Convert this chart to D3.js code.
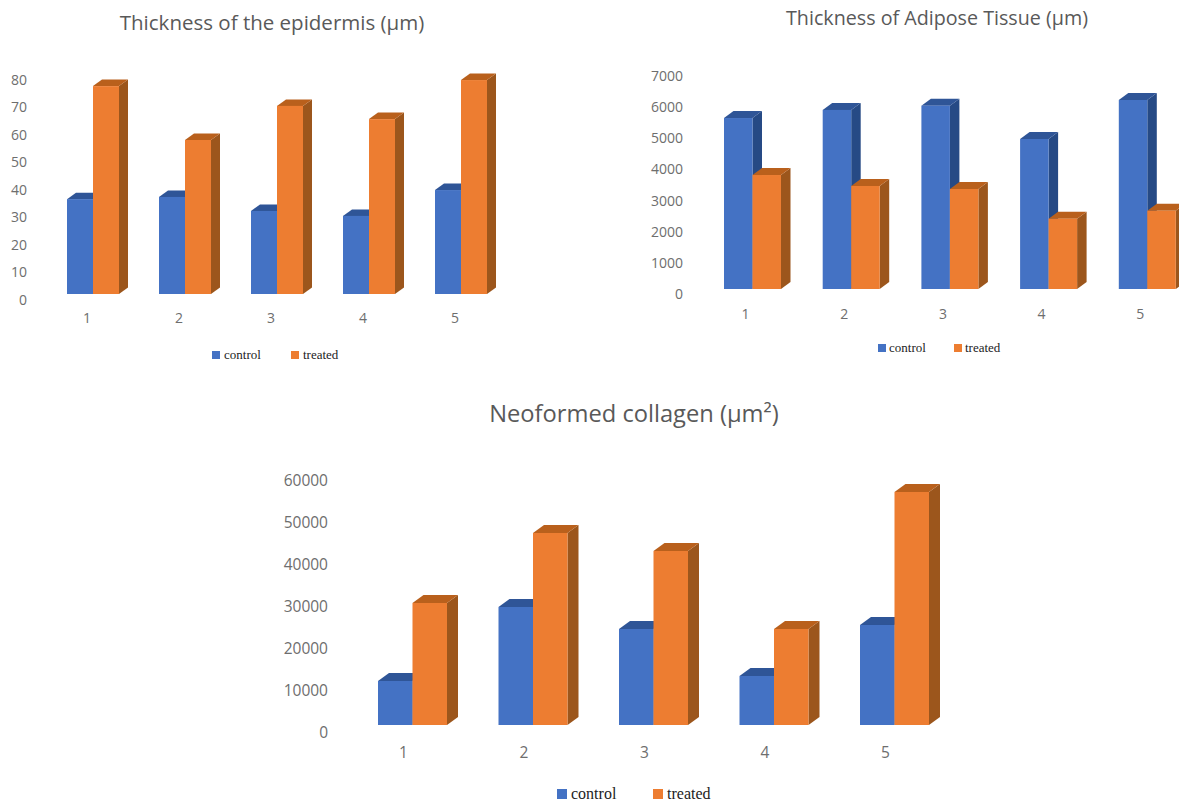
<!DOCTYPE html>
<html>
<head>
<meta charset="utf-8">
<script src="https://cdn.jsdelivr.net/npm/d3@7"></script>
<style>
html, body { margin: 0; padding: 0; background: #fff; overflow: hidden; }
svg { display: block; }
.title { font-family: "Open Sans", sans-serif; fill: #595959; text-anchor: middle; }
.axis text { font-family: "Open Sans", sans-serif; fill: #6e6e6e; }
.legend text { font-family: "Liberation Serif", serif; fill: #222; }
</style>
</head>
<body>
<svg id="page" width="1179" height="803"></svg>
<script>
var categories = ["1", "2", "3", "4", "5"];
var seriesNames = ["control", "treated"];

var epidermisTitle = "Thickness of the epidermis (µm)";
var epidermisControl = [34.5, 35.3, 30.2, 28.4, 37.8];
var epidermisTreated = [75.6, 56, 68.4, 63.6, 77.8];
var epidermisTicks = [0, 10, 20, 30, 40, 50, 60, 70, 80];

var adiposeTitle = "Thickness of Adipose Tissue (µm)";
var adiposeControl = [5490, 5750, 5886, 4817, 6069];
var adiposeTreated = [3660, 3308, 3211, 2258, 2514];
var adiposeTicks = [0, 1000, 2000, 3000, 4000, 5000, 6000, 7000];

var collagenTitle = "Neoformed collagen (µm²)";
var collagenControl = [10476, 28095, 22857, 11667, 23810];
var collagenTreated = [29048, 45714, 41429, 22857, 55476];
var collagenTicks = [0, 10000, 20000, 30000, 40000, 50000, 60000];

var colors = {
	control: { front: "#4472c4", top: "#2f5597", side: "#264a85" },
	treated: { front: "#ed7d31", top: "#b9601c", side: "#9c561c" }
};

function drawChart(o) {
	var svg = d3.select("#page");
	var g = svg.append("g");

	g.append("text")
		.attr("class", "title")
		.attr("x", o.titleX)
		.attr("y", o.titleY)
		.style("font-size", o.titleSize + "px")
		.text(o.title);

	var y = d3.scaleLinear().domain([0, o.ticks[o.ticks.length - 1]]).range([o.base, o.top]);
	var x = d3.scaleBand()
		.domain(categories)
		.range([o.left, o.left + (categories.length - 1) * o.step + o.pairWidth])
		.paddingInner(1 - o.pairWidth / o.step)
		.paddingOuter(0);
	var inner = d3.scaleBand().domain(seriesNames).range([0, x.bandwidth()]);

	var rows = [];
	categories.forEach(function(c, i) {
		rows.push({ cat: c, name: "control", value: o.control[i] });
		rows.push({ cat: c, name: "treated", value: o.treated[i] });
	});

	var bars = g.selectAll("g.bar")
		.data(rows)
		.enter().append("g")
		.attr("class", "bar");

	function left(d) { return x(d.cat) + inner(d.name); }
	function right(d) { return left(d) + inner.bandwidth(); }

	bars.append("polygon")
		.attr("fill", function(d) { return colors[d.name].side; })
		.attr("points", function(d) {
			return [[right(d), y(d.value)], [right(d) + o.depthX, y(d.value) - o.depthY],
				[right(d) + o.depthX, o.base - o.depthY], [right(d), o.base]].join(" ");
		});
	bars.append("polygon")
		.attr("fill", function(d) { return colors[d.name].top; })
		.attr("points", function(d) {
			return [[left(d), y(d.value)], [left(d) + o.depthX, y(d.value) - o.depthY],
				[right(d) + o.depthX, y(d.value) - o.depthY], [right(d), y(d.value)]].join(" ");
		});
	bars.append("rect")
		.attr("fill", function(d) { return colors[d.name].front; })
		.attr("x", left)
		.attr("y", function(d) { return y(d.value); })
		.attr("width", inner.bandwidth())
		.attr("height", function(d) { return o.base - y(d.value); });

	var yAxis = g.append("g")
		.attr("class", "axis")
		.attr("transform", "translate(" + o.tickRight + "," + o.tickShift + ")")
		.call(d3.axisLeft(y).tickValues(o.ticks).tickSize(0).tickPadding(0).tickFormat(d3.format("d")));
	var xAxis = g.append("g")
		.attr("class", "axis")
		.attr("transform", "translate(" + (-o.catShift) + "," + o.catY + ")")
		.call(d3.axisBottom(x).tickSize(0).tickPadding(0));
	[yAxis, xAxis].forEach(function(a) {
		a.select(".domain").remove();
		a.selectAll("text").style("font-size", o.tickSize + "px");
	});

	var legend = g.append("g").attr("class", "legend");
	seriesNames.forEach(function(name, i) {
		legend.append("rect")
			.attr("x", o.legendX[i])
			.attr("y", o.legendY - o.legendBox / 2)
			.attr("width", o.legendBox)
			.attr("height", o.legendBox)
			.attr("fill", colors[name].front);
		legend.append("text")
			.attr("x", o.legendX[i] + o.legendBox + o.legendGap)
			.attr("y", o.legendY)
			.attr("dy", "0.32em")
			.style("font-size", o.legendSize + "px")
			.text(name);
	});
}

drawChart({
	title: epidermisTitle, control: epidermisControl, treated: epidermisTreated, ticks: epidermisTicks,
	titleX: 272, titleY: 30, titleSize: 20.5,
	base: 294, top: 74, tickShift: 6, tickRight: 27, tickSize: 14,
	left: 67, step: 92, pairWidth: 52, depthX: 9, depthY: 6.5,
	catShift: 6, catY: 313,
	legendX: [212, 291], legendY: 355, legendBox: 8, legendGap: 4, legendSize: 13
});

drawChart({
	title: adiposeTitle, control: adiposeControl, treated: adiposeTreated, ticks: adiposeTicks,
	titleX: 937, titleY: 25, titleSize: 19.7,
	base: 289, top: 71, tickShift: 5, tickRight: 683, tickSize: 14,
	left: 724, step: 98.7, pairWidth: 57, depthX: 9.5, depthY: 7,
	catShift: 7, catY: 309,
	legendX: [878, 954], legendY: 348, legendBox: 8, legendGap: 3, legendSize: 13
});

drawChart({
	title: collagenTitle, control: collagenControl, treated: collagenTreated, ticks: collagenTicks,
	titleX: 634, titleY: 422, titleSize: 23.7,
	base: 725, top: 473, tickShift: 8, tickRight: 328, tickSize: 15.5,
	left: 378, step: 120.5, pairWidth: 69, depthX: 11, depthY: 8,
	catShift: 9, catY: 747,
	legendX: [557, 653], legendY: 794, legendBox: 10, legendGap: 4, legendSize: 16
});
</script>
</body>
</html>
